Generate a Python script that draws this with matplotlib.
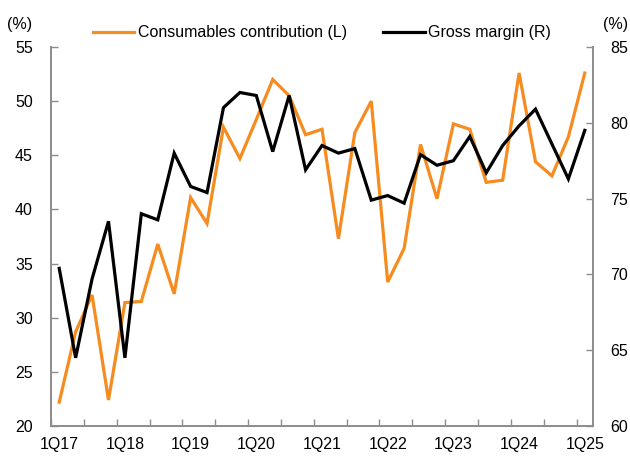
import matplotlib
matplotlib.use("Agg")
import matplotlib.pyplot as plt
import numpy as np

# quarterly series, 1Q17 .. 1Q25
consumables = [22.2, 28.7, 32.1, 22.4, 31.4, 31.5, 36.8, 32.2, 41.1, 38.7,
               47.6, 44.7, 48.3, 52.0, 50.5, 46.9, 47.4, 37.3, 47.1, 50.0,
               33.3, 36.4, 46.0, 41.0, 47.9, 47.4, 42.5, 42.7, 52.6, 44.4,
               43.1, 46.7, 52.6]
gross_margin = [70.4, 64.5, 69.7, 73.5, 64.5, 74.0, 73.6, 78.0, 75.8, 75.4,
                81.0, 82.0, 81.8, 78.1, 81.8, 76.9, 78.5, 78.0, 78.3, 74.9,
                75.2, 74.7, 77.9, 77.2, 77.5, 79.1, 76.7, 78.5, 79.8, 80.9,
                78.6, 76.3, 79.5]
year_labels = ["1Q17", "1Q18", "1Q19", "1Q20", "1Q21", "1Q22", "1Q23", "1Q24", "1Q25"]

ORANGE = "#F68B1F"
GREY = "#8C8C8C"
FS = 11.5

plt.rcParams["font.family"] = ["Liberation Sans", "DejaVu Sans"]

x = np.arange(len(consumables))

fig = plt.figure(figsize=(6.3, 4.63), dpi=100)
ax = fig.add_axes([51 / 630, 1 - 426 / 463, 542 / 630, 379 / 463])
ax2 = ax.twinx()

l1, = ax.plot(x, consumables, color=ORANGE, lw=2.3, solid_joinstyle="miter")
l2, = ax2.plot(x, gross_margin, color="black", lw=2.3, solid_joinstyle="miter")

ax.set_xlim(-0.5, len(x) - 0.5)
ax.set_ylim(20, 55)
ax2.set_ylim(60, 85)
ax.set_yticks(np.arange(20, 56, 5))
ax2.set_yticks(np.arange(60, 86, 5))

ax.set_xticks(x[::4])
ax.set_xticklabels(year_labels)
ax.set_xticks(np.arange(-0.5, len(x), 2), minor=True)
ax.tick_params(axis="x", which="major", length=0, pad=8, labelsize=FS)
ax.tick_params(axis="x", which="minor", direction="in", length=5, color=GREY, width=1)
ax.tick_params(axis="y", direction="in", length=5, color=GREY, width=1, pad=13, labelsize=FS)
ax2.tick_params(axis="y", direction="in", length=5, color=GREY, width=1, pad=12.5, labelsize=FS)

for a in (ax, ax2):
    a.spines["top"].set_visible(False)
    for s in ("left", "right", "bottom"):
        a.spines[s].set_color(GREY)
        a.spines[s].set_linewidth(1.2)

fig.text(20 / 630, 1 - 24 / 463, "(%)", ha="center", va="center", fontsize=FS)
fig.text(616 / 630, 1 - 24 / 463, "(%)", ha="center", va="center", fontsize=FS)

ax.legend([l1, l2], ["Consumables contribution (L)", "Gross margin (R)"],
          loc="center", bbox_to_anchor=(0.5, 1.037), ncol=2, frameon=False,
          fontsize=FS, handlelength=2.6, handletextpad=0.2, columnspacing=2.3,
          borderpad=0, borderaxespad=0)

fig.savefig("out.png", dpi=100)
